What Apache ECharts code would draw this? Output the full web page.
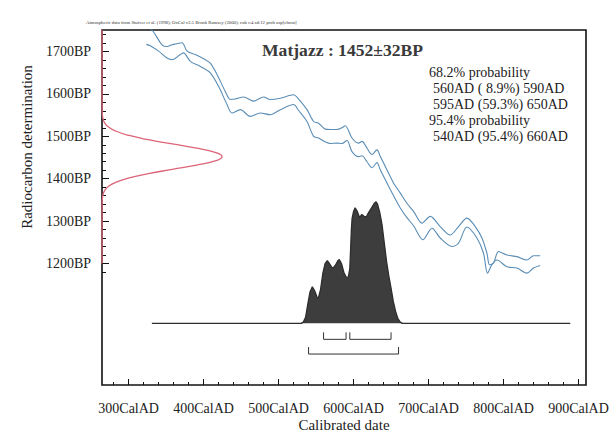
<!DOCTYPE html>
<html><head><meta charset="utf-8">
<script src="https://cdn.jsdelivr.net/npm/echarts@6/dist/echarts.min.js"></script>
<style>html,body{margin:0;padding:0;background:#fff}#c{width:612px;height:434px}</style>
</head><body><div id="c"></div>
<script>
// ---- data ----
const headerText = 'Atmospheric data from Stuiver et al. (1998); OxCal v3.5 Bronk Ramsey (2000); cub r:4 sd:12 prob usp[chron]';
const titleText = 'Matjazz : 1452\u00b132BP';
const probLines = ['68.2% probability', '560AD ( 8.9%) 590AD', '595AD (59.3%) 650AD', '95.4% probability', '540AD (95.4%) 660AD'];
const xTickLabels = [300, 400, 500, 600, 700, 800, 900];
const xMinorTicks = [280, 320, 340, 360, 380, 420, 440, 460, 480, 520, 540, 560, 580, 620, 640, 660, 680, 720, 740, 760, 780, 820, 840, 860, 880];
const yTickLabels = [1200, 1300, 1400, 1500, 1600, 1700];
const yMinorTicks = [1180, 1220, 1240, 1260, 1280, 1320, 1340, 1360, 1380, 1420, 1440, 1460, 1480, 1520, 1540, 1560, 1580, 1620, 1640, 1660, 1680, 1720, 1740];

// calibration curve (upper and lower 1-sigma lines): calendar AD, BP
const upperYears = [323.6, 332.5, 344.5, 351.2, 357.9, 371.2, 377.9, 388.9, 400, 408.9, 417.9, 428.9, 435.6, 442.3, 453.3, 466.7, 480, 488.9, 502.3, 520, 526.7, 537.9, 546.7, 553.3, 562.3, 568.9, 577.9, 584.5, 588.9, 597.9, 606.7, 611.2, 617.9, 624.5, 631.2, 635.6, 644.5, 653.3, 662.3, 671.2, 680, 691.2, 702.3, 715.6, 728.9, 740, 751.2, 762.3, 771.2, 777.9, 781.3, 786.7, 793.3, 804.5, 817.9, 831.2, 840, 848.9];
const upperBP = [1761, 1748, 1716, 1712, 1716, 1721, 1701, 1693, 1683, 1673, 1646, 1606, 1587, 1588, 1593, 1583, 1593, 1587, 1590, 1598, 1588, 1563, 1535, 1531, 1517, 1516, 1516, 1520, 1525, 1496, 1484, 1488, 1472, 1457, 1468, 1453, 1421, 1390, 1366, 1342, 1323, 1295, 1311, 1287, 1267, 1287, 1307, 1287, 1260, 1224, 1197, 1201, 1228, 1220, 1216, 1208, 1218, 1218];
const lowerYears = [323.6, 328.9, 340, 351.2, 357.9, 368.9, 373.3, 382.3, 395.6, 408.9, 420, 431.2, 437.9, 449, 462.3, 475.6, 488.9, 502.3, 520, 526.7, 537.9, 546.7, 553.3, 562.3, 568.9, 577.9, 584.5, 591.2, 597.9, 606.7, 611.2, 617.9, 624.5, 631.2, 635.6, 644.5, 653.3, 662.3, 671.2, 680, 692.5, 704.5, 715.6, 731.2, 740, 751.2, 764.5, 773.3, 778.7, 784.5, 791.2, 804.5, 817.9, 831.2, 840, 848.9];
const lowerBP = [1717, 1714, 1701, 1685, 1681, 1693, 1697, 1677, 1665, 1650, 1618, 1575, 1555, 1563, 1547, 1555, 1551, 1563, 1575, 1561, 1535, 1500, 1496, 1487, 1483, 1484, 1483, 1490, 1464, 1452, 1454, 1440, 1426, 1438, 1421, 1390, 1360, 1331, 1308, 1289, 1256, 1283, 1260, 1240, 1248, 1286, 1260, 1224, 1177, 1197, 1208, 1192, 1189, 1177, 1189, 1195];

// radiocarbon date (red), BP vs relative probability
const dateBP = [1200, 1300, 1340, 1352, 1362, 1372, 1382, 1392, 1402, 1412, 1422, 1432, 1442, 1452, 1462, 1472, 1482, 1492, 1502, 1512, 1522, 1532, 1542, 1552, 1564, 1600, 1751];
const dateProb = [0, 0, 0.001, 0.003, 0.008, 0.022, 0.054, 0.118, 0.226, 0.386, 0.586, 0.788, 0.942, 1, 0.942, 0.788, 0.586, 0.386, 0.226, 0.118, 0.054, 0.022, 0.008, 0.003, 0.001, 0, 0];

// calibrated distribution (dark), calendar AD vs relative probability
const calYears = [331, 530, 533, 536, 539, 542, 545, 548, 551, 553, 556, 559, 562, 565, 568, 571, 573, 576, 579, 581, 584, 587, 590, 593, 595, 596, 597, 598, 600, 602, 605, 608, 611, 614, 617, 620, 624, 628, 630, 632, 635, 638, 641, 644, 647, 650, 653, 656, 659, 662, 665, 889];
const calProb = [0, 0, 0.01, 0.05, 0.16, 0.26, 0.30, 0.27, 0.22, 0.205, 0.28, 0.41, 0.49, 0.515, 0.49, 0.46, 0.455, 0.48, 0.515, 0.525, 0.49, 0.42, 0.38, 0.38, 0.45, 0.6, 0.76, 0.86, 0.92, 0.95, 0.92, 0.87, 0.895, 0.88, 0.875, 0.91, 0.95, 0.99, 1.0, 0.98, 0.91, 0.81, 0.66, 0.51, 0.39, 0.29, 0.18, 0.1, 0.04, 0.012, 0, 0];

const ranges68 = [[560, 590], [595, 650]];
const ranges95 = [[540, 660]];

// ---- chart ----
const SERIF = '"Liberation Serif", "Times New Roman", serif';
const TXT = '#222';
const FRAME = '#111';
function fitFont(text, targetW, weight) {
  const c = document.createElement('canvas').getContext('2d');
  c.font = (weight || 'normal') + ' 100px ' + SERIF;
  return 100 * targetW / c.measureText(text).width;
}
const zip = (a, b) => a.map((v, i) => [v, b[i]]);

const chart = echarts.init(document.getElementById('c'), null, { renderer: 'svg' });

const bracketData = ranges68.map(r => [r[0], r[1], 0]).concat(ranges95.map(r => [r[0], r[1], 1]));

const graphics = [
  { type: 'text', x: 86, y: 22, style: { text: headerText, fontFamily: SERIF, fontSize: fitFont(headerText, 211), fill: '#333', verticalAlign: 'middle' } },
  { type: 'text', x: 262, y: 50, style: { text: titleText, fontFamily: SERIF, fontWeight: 'bold', fontSize: fitFont(titleText, 161, 'bold'), fill: '#3a3a3a', verticalAlign: 'middle' } },
  { type: 'text', x: 27, y: 147, rotation: Math.PI / 2, style: { text: 'Radiocarbon determination', fontFamily: SERIF, fontSize: 15, fill: TXT, align: 'center', verticalAlign: 'middle' } },
  { type: 'text', x: 344, y: 425, style: { text: 'Calibrated date', fontFamily: SERIF, fontSize: 15, fill: TXT, align: 'center', verticalAlign: 'middle' } }
];
const probX = [429, 433, 433, 429, 433];
probLines.forEach((t, i) => {
  graphics.push({ type: 'text', x: probX[i], y: 72.3 + i * 16, style: { text: t, fontFamily: SERIF, fontSize: 14, fill: TXT, verticalAlign: 'middle' } });
});

const XMIN = 264.5, XMAX = 910, YMIN = 913, YMAX = 1751;

chart.setOption({
  animation: false,
  backgroundColor: '#fff',
  grid: { left: 102, right: 26, top: 30, bottom: 49, containLabel: false, outerBoundsMode: 'none' },
  xAxis: [
    { type: 'value', min: XMIN, max: XMAX, position: 'bottom', axisLine: { show: false, onZero: false },
      axisTick: { show: true, inside: true, length: 6, customValues: xTickLabels, lineStyle: { color: FRAME } },
      axisLabel: { customValues: xTickLabels, formatter: v => v + 'CalAD', fontFamily: SERIF, fontSize: 14, color: TXT, margin: 16 },
      splitLine: { show: false } },
    { type: 'value', min: XMIN, max: XMAX, position: 'bottom',
      axisLine: { show: false, onZero: false }, axisLabel: { show: false }, splitLine: { show: false },
      axisTick: { show: true, inside: true, length: 3, customValues: xMinorTicks, lineStyle: { color: FRAME } } },
    { type: 'value', min: 0, max: 4.03, show: false, axisLine: { onZero: false } }
  ],
  yAxis: [
    { type: 'value', min: YMIN, max: YMAX, position: 'left', axisLine: { show: false, onZero: false },
      axisTick: { show: true, inside: true, length: 7, customValues: yTickLabels, lineStyle: { color: FRAME } },
      axisLabel: { customValues: yTickLabels, formatter: v => v + 'BP', fontFamily: SERIF, fontSize: 14, color: TXT, margin: 11 },
      splitLine: { show: false } },
    { type: 'value', min: YMIN, max: YMAX, position: 'left',
      axisLine: { show: false, onZero: false }, axisLabel: { show: false }, splitLine: { show: false },
      axisTick: { show: true, inside: true, length: 4, customValues: yMinorTicks, lineStyle: { color: FRAME } } },
    { type: 'value', min: -0.507, max: 2.412, show: false, axisLine: { onZero: false } }
  ],
  graphic: graphics,
  series: [
    { type: 'custom', name: 'frame', xAxisIndex: 0, yAxisIndex: 0, data: [[XMIN, YMIN]], silent: true, clip: false, z: 1,
      renderItem: (params, api) => {
        const cs = params.coordSys;
        return { type: 'rect', shape: { x: cs.x, y: cs.y, width: cs.width, height: cs.height },
          style: { stroke: FRAME, fill: 'none', lineWidth: 1.6 } };
      } },
    { type: 'line', name: 'dist', xAxisIndex: 0, yAxisIndex: 2, data: zip(calYears, calProb), symbol: 'none',
      lineStyle: { color: '#2e2e2e', width: 1.3 }, areaStyle: { color: '#3d3d3d', opacity: 1 }, z: 3 },
    { type: 'custom', name: 'ranges', xAxisIndex: 0, yAxisIndex: 2, data: bracketData, encode: { x: [0, 1] },
      renderItem: (params, api) => {
        const a = api.coord([api.value(0), 0]);
        const b = api.coord([api.value(1), 0]);
        const yb = a[1] + (api.value(2) ? 30.7 : 16);
        return { type: 'polyline', shape: { points: [[a[0], yb - 7], [a[0], yb], [b[0], yb], [b[0], yb - 7]] },
          style: { stroke: '#333', fill: 'none', lineWidth: 1 } };
      }, z: 3 },
    { type: 'line', name: 'upper', xAxisIndex: 0, yAxisIndex: 0, data: zip(upperYears, upperBP), symbol: 'none', smooth: 0.3,
      lineStyle: { color: '#5a8db5', width: 1.1 }, clip: true, z: 4 },
    { type: 'line', name: 'lower', xAxisIndex: 0, yAxisIndex: 0, data: zip(lowerYears, lowerBP), symbol: 'none', smooth: 0.3,
      lineStyle: { color: '#5a8db5', width: 1.1 }, clip: true, z: 4 },
    { type: 'line', name: 'date', xAxisIndex: 2, yAxisIndex: 0, data: zip(dateProb, dateBP), symbol: 'none', smooth: true,
      lineStyle: { color: '#dc6478', width: 1.3 }, clip: false, z: 5 }
  ]
});
</script>
</body></html>
